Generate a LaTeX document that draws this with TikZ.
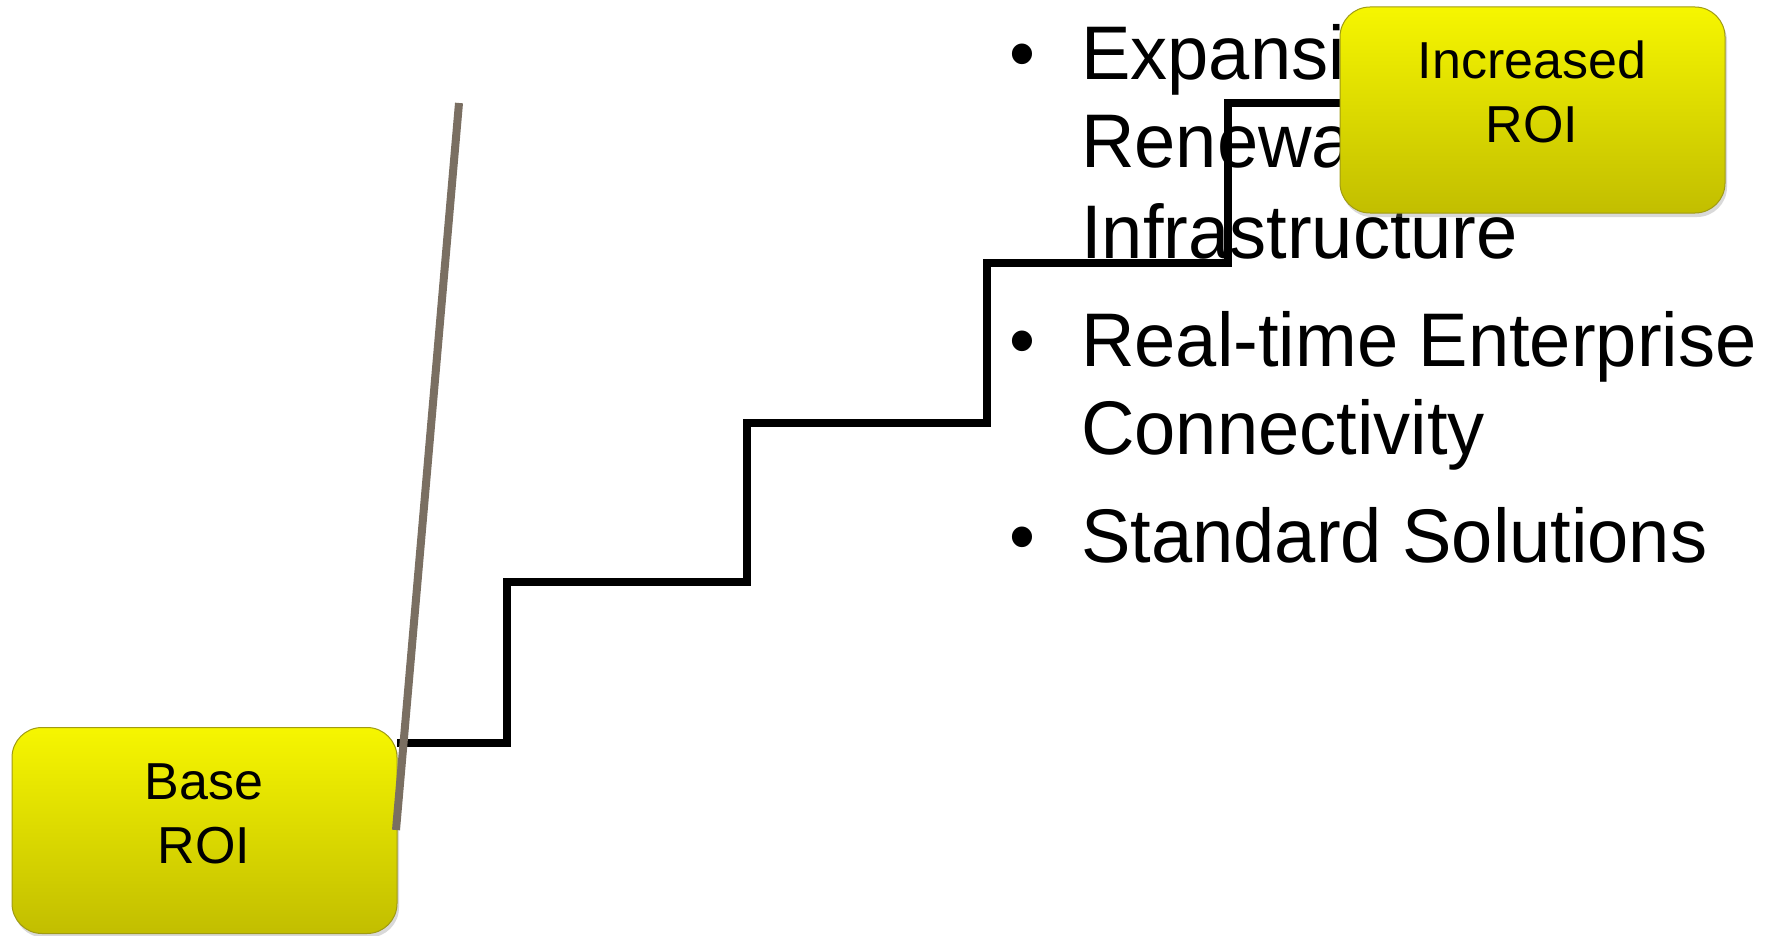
\documentclass[tikz,border=0pt]{standalone}
\usepackage{fontspec}
\setmainfont{Liberation Sans}
\newfontfamily\bulletfont[FakeStretch=0.975]{Liberation Sans}
\usetikzlibrary{shadows}
\definecolor{ytop}{RGB}{246,246,0}
\definecolor{ybot}{RGB}{194,190,0}
\definecolor{yborder}{RGB}{160,155,20}
\definecolor{pole}{RGB}{122,111,98}
\begin{document}
\begin{tikzpicture}[x=1pt,y=-1pt,
  roibox/.style={rounded corners=30pt, draw=yborder, line width=1pt,
    top color=ytop, bottom color=ybot,
    drop shadow={opacity=0.3, shadow xshift=2pt, shadow yshift=-4pt},
    inner sep=0pt, minimum width=385pt, minimum height=206pt},
  boxtext/.style={font=\fontsize{52}{64}\selectfont, anchor=base, inner sep=0pt},
  bullettext/.style={font=\bulletfont\fontsize{76}{89}\selectfont, anchor=base west, inner sep=0pt},
  stair/.style={line width=7.2pt, line join=miter, draw=black},
  polestyle/.style={line width=8pt, draw=pole}]
\useasboundingbox (0,0) rectangle (1779,936);

% bullet list
\node[bullettext] (bul1) at (1009,80) {•};
\node[bullettext] (l1) at (1081,80) {Expansion of};
\node[bullettext] (l2) at (1081,168) {Renewable};
\node[bullettext] (l3) at (1081,258) {Infrastructure};
\node[bullettext] (bul2) at (1009,366) {•};
\node[bullettext] (l4) at (1081,366) {Real-time Enterprise};
\node[bullettext] (l5) at (1081,454) {Connectivity};
\node[bullettext] (bul3) at (1009,562) {•};
\node[bullettext] (l6) at (1081,562) {Standard Solutions};

% base box
\node[roibox] (base) at (204.5,830.5) {};
\node[boxtext] (baseA) at (204,799) {Base};
\node[boxtext] (baseB) at (204,863) {ROI};

% increased box position (drawn later)
\coordinate (incpos) at (1532.5,110);

% staircase
\coordinate (s0) at (397,743);
\coordinate (s9) at (1345,103);
\draw[stair] (s0) -- (507,743) -- (507,582) -- (747,582) -- (747,423)
  -- (987,423) -- (987,263) -- (1228,263) -- (1228,103) -- (s9);

% pole
\coordinate (ptop) at (459,103);
\coordinate (pbot) at (396,830);
\draw[polestyle] (ptop) -- (pbot);

% increased box
\node[roibox] (inc) at (incpos) {};
\node[boxtext] (incA) at (1532,79) {Increased};
\node[boxtext] (incB) at (1532,143) {ROI};
\end{tikzpicture}
\end{document}
